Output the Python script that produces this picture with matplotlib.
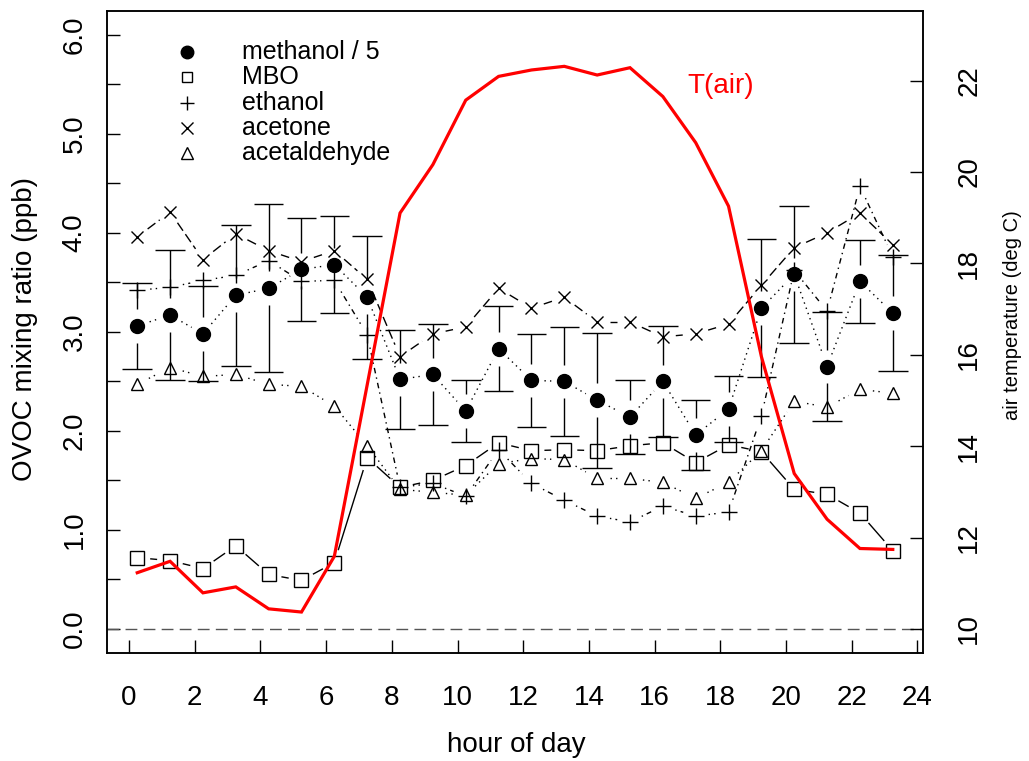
import numpy as np
import matplotlib
matplotlib.use('Agg')
from matplotlib import pyplot as plt
from matplotlib.ticker import FixedLocator

plt.rcParams['font.family'] = ['Liberation Sans', 'DejaVu Sans']

# hourly means, plotted at the middle of the averaging window
hours = np.arange(24) + 0.25

methanol = [3.06, 3.17, 2.98, 3.37, 3.44, 3.63, 3.68, 3.35, 2.52, 2.57, 2.20, 2.83,
            2.51, 2.50, 2.31, 2.14, 2.50, 1.96, 2.22, 3.24, 3.58, 2.65, 3.51, 3.19]
methanol_sd = [0.43, 0.66, 0.48, 0.71, 0.85, 0.52, 0.49, 0.62, 0.50, 0.51, 0.31, 0.43,
               0.47, 0.55, 0.68, 0.37, 0.56, 0.35, 0.33, 0.70, 0.69, 0.55, 0.42, 0.59]
mbo = [0.72, 0.69, 0.61, 0.84, 0.55, 0.49, 0.67, 1.73, 1.43, 1.50, 1.65, 1.88,
       1.80, 1.81, 1.80, 1.85, 1.88, 1.68, 1.86, 1.79, 1.41, 1.36, 1.17, 0.79]
ethanol = [3.42, 3.45, 3.52, 3.57, 3.72, 3.51, 3.52, 2.97, 1.43, 1.47, 1.34, 1.81,
           1.47, 1.30, 1.14, 1.08, 1.24, 1.14, 1.18, 2.15, 3.62, 3.21, 4.47, 3.76]
acetone = [3.96, 4.21, 3.73, 3.99, 3.82, 3.71, 3.82, 3.53, 2.75, 2.98, 3.05, 3.44,
           3.24, 3.35, 3.10, 3.10, 2.95, 2.98, 3.08, 3.47, 3.85, 4.00, 4.20, 3.88]
acetaldehyde = [2.47, 2.64, 2.55, 2.57, 2.47, 2.45, 2.25, 1.85, 1.41, 1.38, 1.35, 1.67,
                1.72, 1.71, 1.52, 1.52, 1.48, 1.32, 1.48, 1.80, 2.30, 2.24, 2.42, 2.38]
t_air = [11.23, 11.48, 10.79, 10.92, 10.44, 10.37, 11.59, 15.34, 19.10, 20.16, 21.57, 22.09,
         22.23, 22.31, 22.12, 22.28, 21.65, 20.64, 19.25, 15.96, 13.40, 12.40, 11.76, 11.74]

labels = ['methanol / 5', 'MBO', 'ethanol', 'acetone', 'acetaldehyde']

# marker, size, face, line style, legend size
styles = [('o', 10, 'k', (0, (1, 3)), 9),
          ('s', 10.5, 'none', '-', 6.8),
          ('+', 12, 'none', (0, (1, 3, 4, 3)), 9.6),
          ('x', 9, 'none', (0, (7, 3)), 8.4),
          ('^', 9, 'none', (0, (1, 3)), 8.4)]
series = [methanol, mbo, ethanol, acetone, acetaldehyde]

fig = plt.figure(figsize=(10.29, 7.61), dpi=100)
ax = fig.add_axes([0.104, 0.1423, 0.793, 0.8432])
pad_x = 0.04 * (hours[-1] - hours[0])
ax.set_xlim(hours[0] - pad_x, hours[-1] + pad_x)
ax.set_ylim(-0.24, 6.24)


def b_lines(ax, x, y, ls, gap=13):
    # like R type="b": segments stop short of the points
    tr = ax.transData
    pts = tr.transform(np.column_stack([x, y]))
    inv = tr.inverted()
    for p0, p1 in zip(pts[:-1], pts[1:]):
        d = np.hypot(*(p1 - p0))
        if d <= 2 * gap:
            continue
        u = (p1 - p0) / d
        seg = inv.transform(np.array([p0 + u * gap, p1 - u * gap]))
        ax.plot(seg[:, 0], seg[:, 1], color='k', lw=1.0, linestyle=ls,
                solid_capstyle='butt', dash_capstyle='butt')


ax.axhline(0, color='#555555', lw=1.0, linestyle=(0, (8.5, 4.5)))

for vals, (mk, ms, mfc, ls, lms) in zip(series, styles):
    b_lines(ax, hours, vals, ls)
    ax.plot(hours, vals, ls='none', marker=mk, ms=ms, mfc=mfc, mec='k', mew=1.0)

# methanol error bars, with a gap round the point
m = np.array(methanol)
sd = np.array(methanol_sd)
gap = 0.17
ax.vlines(hours, m + gap, m + sd, color='k', lw=1.0)
ax.vlines(hours, m - sd, m - gap, color='k', lw=1.0)
ax.hlines(m + sd, hours - 0.45, hours + 0.45, color='k', lw=1.0)
ax.hlines(m - sd, hours - 0.45, hours + 0.45, color='k', lw=1.0)

# legend drawn by hand
for i, (lab, (mk, ms, mfc, ls, lms)) in enumerate(zip(labels, styles)):
    yy = 0.9366 - i * 0.0396
    ax.plot([0.098], [yy], transform=ax.transAxes, marker=mk, ms=lms, mfc=mfc,
            mec='k', mew=1.0, ls='none', clip_on=False)
    ax.text(0.1654, yy, lab, transform=ax.transAxes, fontsize=18, va='center', ha='left')

ax.set_xticks(np.arange(0, 25, 2))
ax.set_xticklabels([str(v) for v in range(0, 25, 2)])
yt = np.arange(0, 6.01, 0.5)
ax.set_yticks(yt)
ax.set_yticklabels(['%.1f' % v if v == int(v) else '' for v in yt], rotation=90, va='center')
ax.tick_params(axis='both', direction='in', length=9.4, width=1.0, labelsize=20)
ax.tick_params(axis='x', pad=23)
ax.tick_params(axis='y', pad=14)
for s in ax.spines.values():
    s.set_linewidth(1.1)

ax2 = ax.twinx()
ax2.set_ylim(9.48, 23.52)
ax2.plot(hours, t_air, color='red', lw=2.3, solid_joinstyle='miter')
ax2.set_yticks(np.arange(10, 23, 2))
ax2.set_yticklabels([str(v) for v in range(10, 23, 2)], rotation=90, va='center')
ax2.tick_params(axis='y', direction='in', length=9.4, width=1.0, labelsize=20, pad=24)
ax2.text(18.0, 21.87, 'T(air)', color='red', fontsize=20, ha='center', va='center')
for s in ax2.spines.values():
    s.set_linewidth(1.1)

fig.text(0.5015, 0.021, 'hour of day', fontsize=20, ha='center', va='center')
fig.text(0.0245, 0.5675, 'OVOC mixing ratio (ppb)', fontsize=20, rotation=90,
         ha='center', va='center')
fig.text(0.984, 0.586, 'air temperature (deg C)', fontsize=14.5, rotation=90,
         ha='center', va='center')

fig.savefig('out.png', dpi=100)
